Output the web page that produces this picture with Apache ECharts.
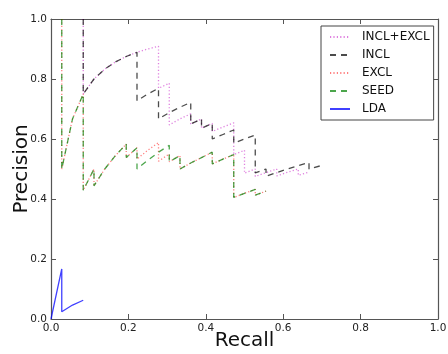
<!DOCTYPE html>
<html><head><meta charset="utf-8">
<script src="https://cdn.jsdelivr.net/npm/echarts@6/dist/echarts.min.js"></script>
<style>html,body{margin:0;padding:0;background:#fff}#c{width:448px;height:354px}</style>
</head><body><div id="c"></div>
<script>
var tickValues = [0, 0.2, 0.4, 0.6, 0.8, 1.0];
var seriesNames = ['INCL+EXCL', 'INCL', 'EXCL', 'SEED', 'LDA'];

var inclExclRecall = [0.0833,0.0833,0.1111,0.1389,0.1667,0.1944,0.2222,0.25,0.2778,0.2778,0.3056,0.3056,0.3333,0.3611,0.3611,0.3889,0.3889,0.4167,0.4167,0.4444,0.4722,0.4722,0.5,0.5,0.5278,0.5278,0.5556,0.5833,0.5833,0.6111,0.6389,0.6389,0.6667];
var inclExclPrecision = [1.0,0.75,0.8,0.833,0.857,0.875,0.889,0.9,0.909,0.769,0.786,0.647,0.667,0.684,0.65,0.667,0.636,0.652,0.625,0.64,0.654,0.548,0.5625,0.486,0.5,0.475,0.488,0.5,0.477,0.489,0.5,0.479,0.49];

var inclRecall = [0.0833,0.0833,0.1111,0.1389,0.1667,0.1944,0.2222,0.2222,0.25,0.2778,0.2778,0.3056,0.3333,0.3611,0.3611,0.3889,0.3889,0.4167,0.4167,0.4444,0.4722,0.4722,0.5,0.5278,0.5278,0.5556,0.5556,0.5833,0.6111,0.6389,0.6667,0.6667,0.6944];
var inclPrecision = [1.0,0.75,0.8,0.833,0.857,0.875,0.889,0.727,0.75,0.769,0.667,0.688,0.706,0.722,0.65,0.667,0.636,0.652,0.6,0.615,0.63,0.586,0.6,0.613,0.487,0.5,0.476,0.488,0.5,0.511,0.522,0.5,0.51];

var exclRecall = [0.0278,0.0278,0.0556,0.0833,0.0833,0.1111,0.1111,0.1389,0.1667,0.1944,0.1944,0.2222,0.2222,0.25,0.2778,0.2778,0.3056,0.3056,0.3333,0.3333,0.3611,0.3889,0.4167,0.4167,0.4444,0.4722,0.4722,0.5,0.5278,0.5278,0.5556];
var exclPrecision = [1.0,0.5,0.667,0.75,0.429,0.5,0.444,0.5,0.545,0.583,0.538,0.571,0.533,0.5625,0.588,0.526,0.55,0.524,0.545,0.5,0.52,0.538,0.556,0.517,0.533,0.548,0.405,0.419,0.432,0.413,0.426];

var seedRecall = [0.0278,0.0278,0.0556,0.0833,0.0833,0.1111,0.1111,0.1389,0.1667,0.1944,0.1944,0.2222,0.2222,0.25,0.2778,0.3056,0.3056,0.3333,0.3333,0.3611,0.3889,0.4167,0.4167,0.4444,0.4722,0.4722,0.5,0.5278,0.5278,0.5556];
var seedPrecision = [1.0,0.5,0.667,0.75,0.429,0.5,0.444,0.5,0.545,0.583,0.538,0.571,0.5,0.529,0.556,0.579,0.524,0.545,0.5,0.52,0.538,0.556,0.517,0.533,0.548,0.405,0.419,0.432,0.413,0.426];

var ldaRecall = [0,0.0278,0.0278,0.0556,0.0833];
var ldaPrecision = [0,0.167,0.024,0.0465,0.0625];

function zip(a, b) { return a.map(function (v, i) { return [v, b[i]]; }); }

var styles = [
  {color: 'rgba(191,0,191,0.5)', type: [1.2, 2.2]},
  {color: 'rgba(0,0,0,0.7)', type: [6, 5]},
  {color: 'rgba(255,0,0,0.5)', type: [1.2, 2.2]},
  {color: 'rgba(0,128,0,0.7)', type: [6, 5]},
  {color: 'rgba(0,0,255,0.75)', type: 'solid'}
];
var dataSets = [zip(inclExclRecall, inclExclPrecision), zip(inclRecall, inclPrecision),
  zip(exclRecall, exclPrecision), zip(seedRecall, seedPrecision), zip(ldaRecall, ldaPrecision)];

var axisCommon = {
  type: 'value', min: 0, max: 1, interval: 0.2,
  axisLine: {show: true, onZero: false, lineStyle: {color: '#555', width: 1.2}},
  axisTick: {show: true, inside: true, length: 5, lineStyle: {color: '#555'}},
  splitLine: {show: false}
};
function fmt(v) { return v.toFixed(1); }

var chart = echarts.init(document.getElementById('c'), null, {renderer: 'canvas'});
chart.setOption({
  animation: false,
  backgroundColor: '#fff',
  grid: {left: 51, top: 19, right: 10, bottom: 35, containLabel: false, outerBoundsMode: 'none'},
  legend: {
    data: seriesNames, orient: 'vertical', left: 321, top: 26,
    itemWidth: 20, itemHeight: 10, itemGap: 6,
    padding: [5, 4, 5, 8],
    borderColor: '#444', borderWidth: 1, backgroundColor: '#fff',
    itemStyle: {opacity: 0},
    textStyle: {fontFamily: 'DejaVu Sans', fontSize: 12, lineHeight: 12, color: '#111', padding: [0, 0, 0, 7]}
  },
  xAxis: [
    Object.assign({}, axisCommon, {position: 'bottom', name: 'Recall', nameLocation: 'middle', nameGap: 12,
      nameMoveOverlap: false,
      nameTextStyle: {fontFamily: 'DejaVu Sans', fontSize: 20, color: '#111'},
      axisLabel: {fontFamily: 'DejaVu Sans', fontSize: 10.5, color: '#222', margin: 4, formatter: fmt}}),
    Object.assign({}, axisCommon, {position: 'top', axisLabel: {show: false}})
  ],
  yAxis: [
    Object.assign({}, axisCommon, {position: 'left', name: 'Precision', nameLocation: 'middle', nameGap: 19,
      nameMoveOverlap: false,
      nameTextStyle: {fontFamily: 'DejaVu Sans', fontSize: 20, color: '#111'},
      axisLabel: {fontFamily: 'DejaVu Sans', fontSize: 10.5, color: '#222', margin: 4, formatter: fmt}}),
    Object.assign({}, axisCommon, {position: 'right', axisLabel: {show: false}})
  ],
  series: seriesNames.map(function (n, i) {
    return {
      name: n, type: 'line', data: dataSets[i], symbol: 'none', showSymbol: false,
      lineStyle: {color: styles[i].color, type: styles[i].type, width: 1.3},
      itemStyle: {color: styles[i].color},
      z: 2 + i, clip: false
    };
  })
});
</script></body></html>
